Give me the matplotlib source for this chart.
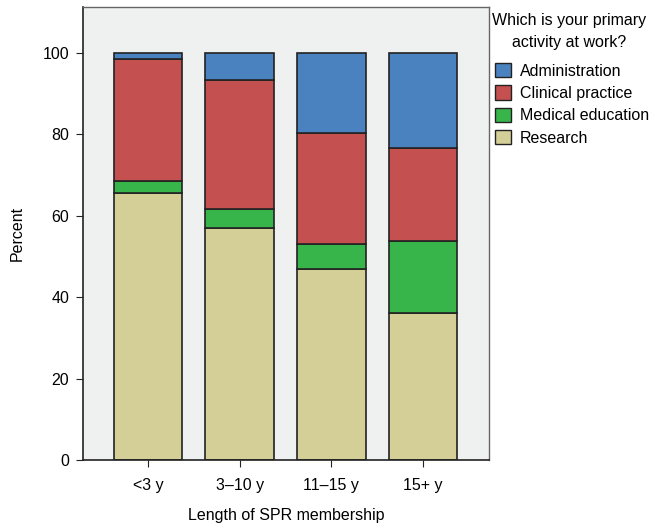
import numpy as np
import matplotlib.pyplot as plt
from matplotlib.patches import Patch

plt.rcParams['font.family'] = ['Liberation Sans', 'DejaVu Sans']

groups = ["<3 y", "3\u201310 y", "11\u201315 y", "15+ y"]
research = [65.5, 56.9, 46.9, 36.1]
med_edu = [2.9, 4.6, 6.2, 17.6]
clinical = [30.1, 31.7, 27.2, 22.8]
admin = [1.5, 6.8, 19.7, 23.5]

series = [
    ("Research", research, "#d3cf97"),
    ("Medical education", med_edu, "#38b54a"),
    ("Clinical practice", clinical, "#c4504f"),
    ("Administration", admin, "#4a81bf"),
]

fig = plt.figure(figsize=(6.5, 5.24), dpi=100)
ax = fig.add_axes([83/650, 64/524, 406/650, (460-7.3)/524])
ax.set_facecolor("#eff1f0")

x = np.arange(len(groups))
bottom = np.zeros(len(groups))
for name, vals, col in series:
    ax.bar(x, vals, 0.75, bottom=bottom, color=col, edgecolor="#222222", linewidth=1.2)
    bottom += np.array(vals)

ax.set_xlim(-0.71, 3.72)
ax.set_ylim(0, 100 * (459.3 - 7.3) / 406.8)
ax.set_yticks([0, 20, 40, 60, 80, 100])
ax.set_xticks(x)
ax.set_xticklabels(groups)
ax.tick_params(labelsize=11.5, length=5, color="#222222", pad=5)
ax.tick_params(axis="x", pad=8)
ax.set_xlabel("Length of SPR membership", fontsize=11.5, labelpad=11)
ax.set_ylabel("Percent", fontsize=11.5, labelpad=13)
for s in ["left", "bottom"]:
    ax.spines[s].set_color("#222222")
    ax.spines[s].set_linewidth(1.2)
for s in ["top", "right"]:
    ax.spines[s].set_color("#666666")
    ax.spines[s].set_linewidth(1.0)

# legend title as separate text so its line spacing matches
fig.text(569/650, 1 - 20/524, "Which is your primary", ha="center", va="center", fontsize=11.5)
fig.text(569/650, 1 - 42/524, "activity at work?", ha="center", va="center", fontsize=11.5)

handles = [Patch(facecolor=c, edgecolor="#222222", label=n) for n, v, c in series[::-1]]
leg = fig.legend(handles=handles, loc="upper left", bbox_to_anchor=(495/650, 1 - 63/524),
                 frameon=False, fontsize=11.5, handlelength=1.0, handleheight=1.0,
                 handletextpad=0.55, labelspacing=0.42, borderaxespad=0, borderpad=0)

fig.savefig("out.png", dpi=100)
